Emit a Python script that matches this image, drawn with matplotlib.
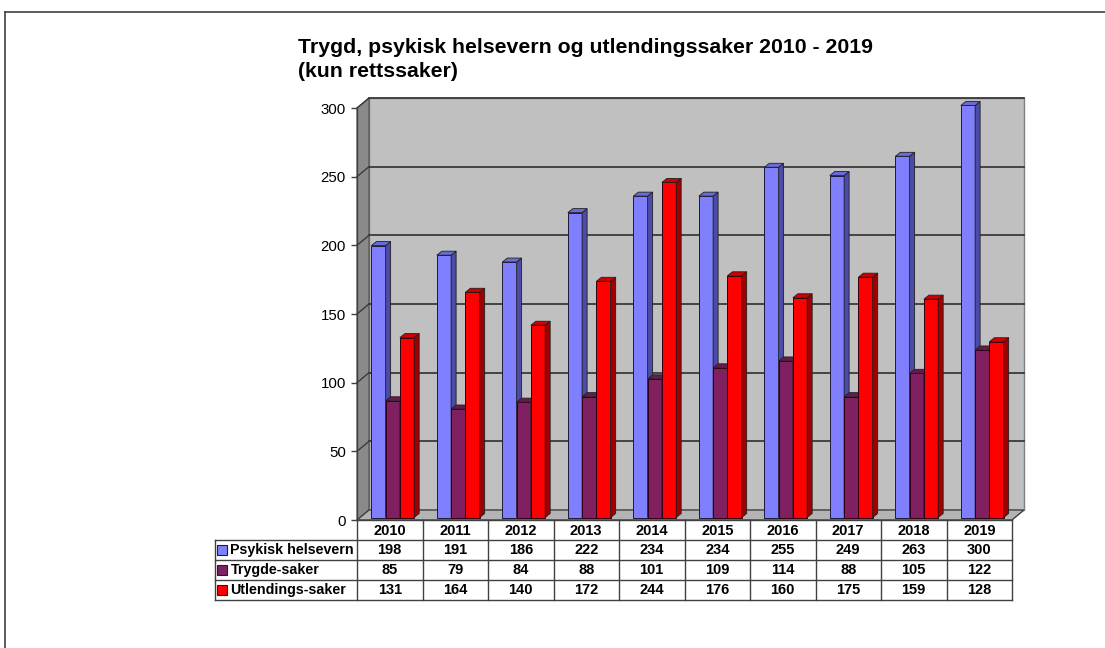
import matplotlib
matplotlib.use("Agg")
import matplotlib.pyplot as plt
import matplotlib.transforms as mtransforms
from matplotlib.patches import Polygon, Rectangle
from matplotlib.lines import Line2D
import numpy as np

plt.rcParams['font.family'] = ['Liberation Sans', 'DejaVu Sans']

# ---------------- data ----------------
years = ["2010", "2011", "2012", "2013", "2014", "2015", "2016", "2017", "2018", "2019"]
series_names = ["Psykisk helsevern", "Trygde-saker", "Utlendings-saker"]
psykisk = [198, 191, 186, 222, 234, 234, 255, 249, 263, 300]
trygde = [85, 79, 84, 88, 101, 109, 114, 88, 105, 122]
utlendings = [131, 164, 140, 172, 244, 176, 160, 175, 159, 128]
yticks = [0, 50, 100, 150, 200, 250, 300]
title1 = "Trygd, psykisk helsevern og utlendingssaker 2010 - 2019"
title2 = "(kun rettssaker)"

front_cols = ["#8080FF", "#802060", "#FF0000"]
side_cols = ["#4B4BA8", "#4E1038", "#A00000"]
top_cols = ["#6A6AD8", "#6A1850", "#D00000"]

W, H = 1105, 648
DPI = 100
fig = plt.figure(figsize=(W / DPI, H / DPI), dpi=DPI)
fig.patch.set_facecolor("white")


def px_rect(l, t, r, b):
    return [l / W, 1 - b / H, (r - l) / W, (b - t) / H]


# front plane of the 3D box
L, T, R, B = 357, 108, 1012, 520
ax = fig.add_axes(px_rect(L, T, R, B))
ax.set_xlim(-0.5, 9.5)
ax.set_ylim(0, 300)
ax.patch.set_visible(False)
for s in ax.spines.values():
    s.set_visible(False)

# depth offsets (pixels)
DX, DY = 12, 10
depth = mtransforms.ScaledTranslation(DX / DPI, DY / DPI, fig.dpi_scale_trans)
xpp = 10 / (R - L)          # data units per pixel (x)
ypp = 300 / (B - T)         # data units per pixel (y)
dxa, dya = DX / (R - L), DY / (B - T)  # depth in axes fraction

# back wall
ax.add_patch(Rectangle((0, 0), 1, 1, transform=ax.transAxes + depth,
                       facecolor="#C0C0C0", edgecolor="#808080", lw=1.0,
                       zorder=0, clip_on=False))
# left wall
ax.add_patch(Polygon([(0, 0), (0, 1), (dxa, 1 + dya), (dxa, dya)],
                     closed=True, transform=ax.transAxes,
                     facecolor="#8A8A8A", edgecolor="#505050", lw=0.8,
                     zorder=0.5, clip_on=False))
# floor
ax.add_patch(Polygon([(0, 0), (1, 0), (1 + dxa, dya), (dxa, dya)],
                     closed=True, transform=ax.transAxes,
                     facecolor="#B4B4B4", edgecolor="#404040", lw=1.0,
                     zorder=0.6, clip_on=False))

# gridlines on back wall and left wall
for v in yticks[1:]:
    ax.plot([-0.5, 9.5], [v, v], transform=ax.transData + depth,
            color="#3A3A3A", lw=1.3, zorder=1, clip_on=False)
    ax.plot([-0.5, -0.5 + DX * xpp], [v, v + DY * ypp], color="#3A3A3A",
            lw=1.0, zorder=1, clip_on=False)

# axis ticks / labels
ax.set_yticks(yticks)
ax.set_yticklabels([str(t) for t in yticks], fontsize=10.8)
ax.tick_params(axis="y", length=4, width=1, color="#404040", pad=4)
ax.set_xticks([])
ax.plot([-0.5, -0.5], [0, 300], color="#404040", lw=1.0, zorder=1, clip_on=False)

# bars with 3D faces
bar_shift = mtransforms.ScaledTranslation(3 / DPI, 2.5 / DPI, fig.dpi_scale_trans)
btr = ax.transData + bar_shift
bw = 0.218
bdx, bdy = 5 * xpp, 4 * ypp
x = np.arange(len(years))
all_series = [psykisk, trygde, utlendings]
for k in range(len(years)):
    for si, vals in enumerate(all_series):
        v = vals[k]
        x0 = x[k] + (si - 1) * bw - bw / 2
        x1 = x0 + bw
        z = 3 + k * 3 + si
        ax.bar([x0 + bw / 2], [v], width=bw, color=front_cols[si],
               edgecolor="#1A1A3A" if si == 0 else "#300010",
               lw=0.7, transform=btr, zorder=z, clip_on=False)
        ax.add_patch(Polygon([(x1, 0), (x1, v), (x1 + bdx, v + bdy), (x1 + bdx, bdy)],
                             closed=True, transform=btr, facecolor=side_cols[si],
                             edgecolor="#202020", lw=0.6, zorder=z, clip_on=False))
        ax.add_patch(Polygon([(x0, v), (x1, v), (x1 + bdx, v + bdy), (x0 + bdx, v + bdy)],
                             closed=True, transform=btr, facecolor=top_cols[si],
                             edgecolor="#202020", lw=0.6, zorder=z, clip_on=False))
ax.set_xlim(-0.5, 9.5)
ax.set_ylim(0, 300)

# ---------------- data table ----------------
TL, TT, TR, TB = 215, 520, 1012, 600
tax = fig.add_axes(px_rect(TL, TT, TR, TB))
lab_w = (L - TL) / ((R - L) / 10)
tax.set_xlim(-0.5 - lab_w, 9.5)
tax.set_ylim(4, 0)
tax.axis("off")
lc = "#404040"
tax.plot([-0.5, 9.5], [0, 0], color=lc, lw=1.0, clip_on=False)
for r in range(1, 5):
    tax.plot([-0.5 - lab_w, 9.5], [r, r], color=lc, lw=1.0, clip_on=False)
tax.plot([-0.5 - lab_w] * 2, [1, 4], color=lc, lw=1.0, clip_on=False)
for k in range(11):
    tax.plot([k - 0.5] * 2, [0, 4], color=lc, lw=1.0, clip_on=False)
for k, yr in enumerate(years):
    tax.text(k, 0.55, yr, ha="center", va="center", fontsize=10.5, fontweight="bold")
for si, (name, vals) in enumerate(zip(series_names, all_series)):
    for k, v in enumerate(vals):
        tax.text(k, si + 1.5, str(v), ha="center", va="center", fontsize=10.5,
                 fontweight="bold")
    mx = -0.5 - lab_w + 7 / ((R - L) / 10)
    tax.plot([mx], [si + 1.5], marker="s", markersize=6.5, color=front_cols[si],
             mec="#202020", mew=0.8, clip_on=False)
    tax.text(-0.5 - lab_w + 15.5 / ((R - L) / 10), si + 1.5, name, ha="left",
             va="center", fontsize=10.3, fontweight="bold")

# ---------------- title ----------------
fig.text(298 / W, 1 - 53 / H, title1, ha="left", va="baseline",
         fontsize=15.3, fontweight="bold")
fig.text(298 / W, 1 - 77 / H, title2, ha="left", va="baseline",
         fontsize=15.3, fontweight="bold")

# outer frame
fig.add_artist(Line2D([5 / W, 1], [1 - 12 / H, 1 - 12 / H], transform=fig.transFigure,
                      color="#404040", lw=1.2))
fig.add_artist(Line2D([5 / W, 5 / W], [0, 1 - 12 / H], transform=fig.transFigure,
                      color="#404040", lw=1.2))

fig.savefig("out.png", dpi=DPI)
